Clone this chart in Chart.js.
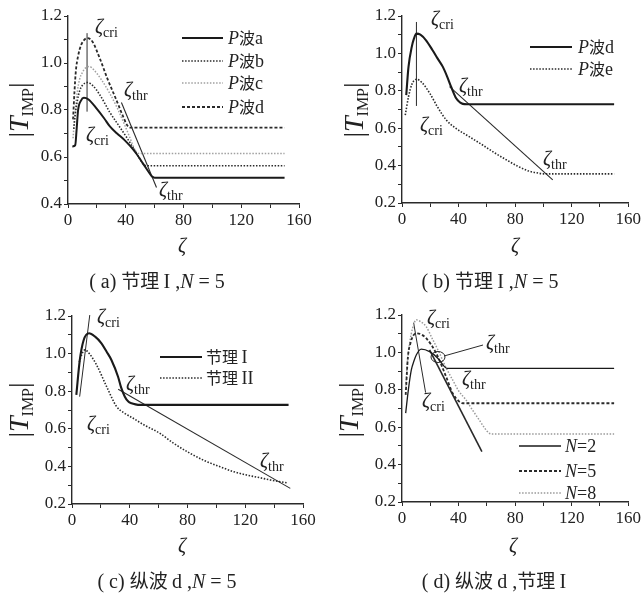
<!DOCTYPE html>
<html>
<head>
<meta charset="utf-8">
<script src="https://cdn.jsdelivr.net/npm/chart.js@4.4.1/dist/chart.umd.min.js"></script>
<style>
  body { margin: 0; background: #fff; }
  #wrap { position: relative; width: 643px; height: 593px; overflow: hidden; }
  canvas { position: absolute; }
</style>
</head>
<body>
<div id="wrap">
  <canvas id="pa" width="320" height="300" style="left:0;top:0"></canvas>
  <canvas id="pb" width="323" height="300" style="left:320px;top:0"></canvas>
  <canvas id="pc" width="320" height="293" style="left:0;top:300px"></canvas>
  <canvas id="pd" width="323" height="293" style="left:320px;top:300px"></canvas>
</div>
<script>
// ---- data: zeta (x) and |T_IMP| (y) ----
// (a) joint I, N=5
var zA_a = [3, 5, 6, 7, 9, 11, 14, 20, 25, 29, 34, 39, 43, 47, 52, 56, 58, 60, 63, 150];
var tA_a = [0.645, 0.65, 0.72, 0.80, 0.84, 0.852, 0.846, 0.805, 0.765, 0.73, 0.70, 0.673, 0.647, 0.617, 0.572, 0.535, 0.518, 0.512, 0.512, 0.512];
var zA_b = [4, 5, 6.5, 8, 10, 13.5, 17, 22, 29, 35, 41, 46, 50, 53, 56, 150];
var tA_b = [0.72, 0.78, 0.84, 0.88, 0.905, 0.917, 0.905, 0.865, 0.79, 0.735, 0.68, 0.63, 0.59, 0.565, 0.563, 0.563];
var zA_c = [3.5, 5, 6.5, 8, 10, 12, 14.8, 18, 23, 29, 34, 39, 43, 46, 48, 50, 150];
var tA_c = [0.68, 0.80, 0.88, 0.93, 0.96, 0.978, 0.985, 0.97, 0.93, 0.87, 0.81, 0.74, 0.68, 0.635, 0.617, 0.615, 0.615];
var zA_d = [3.5, 4.5, 5.5, 7, 9, 11.5, 13.7, 17, 22, 27.5, 33, 38, 41, 43, 150];
var tA_d = [0.76, 0.88, 0.97, 1.03, 1.075, 1.1, 1.106, 1.09, 1.02, 0.93, 0.85, 0.775, 0.735, 0.725, 0.725];
var zA_cri = [13.2, 13.2], tA_cri = [0.793, 1.127];
var zA_thr = [37, 61.3], tA_thr = [0.832, 0.47];

// (b) joint I, N=5
var zB_d = [3, 4.6, 6.9, 8.5, 10.2, 13, 17, 21.6, 25, 28.9, 32, 34.7, 38.3, 41, 43, 46, 150];
var tB_d = [0.777, 0.928, 1.035, 1.08, 1.106, 1.10, 1.07, 1.017, 0.975, 0.928, 0.875, 0.822, 0.76, 0.738, 0.73, 0.728, 0.728];
var zB_e = [2.3, 4.6, 7, 10.2, 14, 19.7, 25, 31.3, 38, 47.5, 57, 66, 74, 82.3, 90, 96.2, 100, 150];
var tB_e = [0.67, 0.768, 0.835, 0.862, 0.845, 0.786, 0.715, 0.644, 0.60, 0.555, 0.51, 0.466, 0.43, 0.395, 0.37, 0.36, 0.356, 0.356];
var zB_cri = [10.2, 10.2], tB_cri = [0.719, 1.168];
var zB_thr = [33.6, 106.6], tB_thr = [0.822, 0.324];

// (c) P wave d, N=5
var zC_1 = [3, 5.4, 8, 11.8, 16, 20.4, 24, 27.3, 31.9, 34, 36.6, 39, 41.2, 44, 47, 150];
var tC_1 = [0.78, 0.966, 1.07, 1.108, 1.09, 1.055, 1.01, 0.966, 0.877, 0.82, 0.771, 0.745, 0.736, 0.73, 0.727, 0.727];
var zC_2 = [5, 7, 8.9, 12, 17, 24, 30.9, 36, 42.4, 50, 60.9, 70, 81.7, 92, 102.6, 112, 121, 130, 137.3, 149];
var tC_2 = [0.955, 1.0, 1.02, 1.0, 0.94, 0.824, 0.718, 0.685, 0.656, 0.62, 0.576, 0.525, 0.47, 0.43, 0.398, 0.372, 0.354, 0.34, 0.328, 0.313];
var zC_cri = [5.3, 12.3], tC_cri = [0.771, 1.205];
var zC_thr = [32, 151.2], tC_thr = [0.81, 0.283];

// (d) P wave d, joint I
var zD_2 = [2.6, 4.5, 6.6, 8.5, 10.1, 13.6, 19.5, 25.3, 30, 32, 150];
var tD_2 = [0.675, 0.80, 0.906, 0.955, 0.986, 1.017, 1.004, 0.969, 0.924, 0.915, 0.915];
var zD_5 = [2.6, 4.2, 6, 8, 10.1, 13, 17.1, 24.2, 31.2, 35.8, 40.5, 43, 150];
var tD_5 = [0.773, 0.977, 1.05, 1.09, 1.102, 1.098, 1.076, 0.995, 0.87, 0.782, 0.737, 0.728, 0.728];
var zD_8 = [2.6, 4, 5.4, 7.5, 10.1, 13, 17.1, 21, 26.5, 31, 35.8, 40, 45.2, 50, 54.6, 58, 61.6, 64, 150];
var tD_8 = [0.80, 0.96, 1.049, 1.13, 1.174, 1.165, 1.138, 1.08, 0.996, 0.92, 0.853, 0.795, 0.746, 0.69, 0.639, 0.6, 0.568, 0.563, 0.563];
var zD_cri = [8.2, 16.7], tD_cri = [1.159, 0.785];
var zD_thr = [19.5, 56.5], tD_thr = [1.013, 0.47];

var SER = "'Liberation Serif', 'Times New Roman', serif";
var CJK = "'Noto Sans CJK SC', sans-serif";
var INK = '#2a2a2a';

function fnt(size, style, fam) { return (style ? style + ' ' : '') + size + 'px ' + fam; }

function drawRuns(ctx, x, y, parts, align) {
  var w = 0;
  parts.forEach(function (p) { ctx.font = p[1]; w += ctx.measureText(p[0]).width; });
  if (align == 'center') x -= w / 2;
  parts.forEach(function (p) {
    ctx.font = p[1];
    ctx.fillText(p[0], x, y + (p[2] || 0));
    x += ctx.measureText(p[0]).width;
  });
}

function zeta(ctx, x, y, sub) {
  drawRuns(ctx, x, y, [['ζ', fnt(20, 'italic', SER)], [sub, fnt(14, '', SER), 4]]);
}

var decor = {
  id: 'decor',
  afterDraw: function (chart, args, o) {
    var ctx = chart.ctx;
    ctx.save();
    ctx.fillStyle = '#222';
    ctx.textBaseline = 'alphabetic';

    // y title |T_IMP|
    ctx.save();
    ctx.translate(o.ytitle[0], o.ytitle[1]);
    ctx.rotate(-Math.PI / 2);
    drawRuns(ctx, 0, 10, [['|', fnt(28, '', SER)], ['T', fnt(28, 'italic', SER)],
      ['IMP', fnt(16, '', SER), 5], ['|', fnt(28, '', SER)]], 'center');
    ctx.restore();

    // x title
    drawRuns(ctx, o.xtitle[0], o.xtitle[1], [['ζ', fnt(20, 'italic', SER)]], 'center');

    // caption
    drawRuns(ctx, o.cap[0], 288, o.caption, 'center');

    // zeta labels
    o.labels.forEach(function (l) { zeta(ctx, l[0], l[1], l[2]); });

    // legend
    var lg = o.legend;
    lg.items.forEach(function (it, i) {
      var ds = chart.data.datasets[it.ds];
      var yy = lg.rows[i];
      ctx.save();
      ctx.strokeStyle = ds.borderColor;
      ctx.lineWidth = ds.borderWidth;
      ctx.setLineDash(ds.borderDash || []);
      ctx.beginPath();
      ctx.moveTo(lg.x1, yy);
      ctx.lineTo(lg.x2, yy);
      ctx.stroke();
      ctx.restore();
      drawRuns(ctx, lg.tx, yy + 6, it.parts);
    });

    // extra marks (circle + leader in d)
    if (o.ellipse) {
      var e = o.ellipse;
      ctx.strokeStyle = INK;
      ctx.lineWidth = 1;
      ctx.beginPath();
      ctx.ellipse(e[0], e[1], e[2], e[3], 0, 0, Math.PI * 2);
      ctx.stroke();
      ctx.beginPath();
      ctx.moveTo(e[4], e[5]);
      ctx.lineTo(e[6], e[7]);
      ctx.stroke();
    }
    ctx.restore();
  }
};

function series(xs, ys, color, width, dash, straight) {
  return {
    data: xs.map(function (v, i) { return { x: v, y: ys[i] }; }),
    borderColor: color,
    borderWidth: width,
    borderDash: dash || [],
    pointRadius: 0,
    fill: false,
    clip: false,
    tension: straight ? 0 : 0.4,
    cubicInterpolationMode: straight ? 'default' : 'monotone'
  };
}

function makePanel(id, area, ymin, datasets, deco) {
  var cv = document.getElementById(id);
  var W = cv.width, H = cv.height, XH = 28;
  var tickFont = { family: SER, size: 17 };
  var grid = { drawOnChartArea: false, drawTicks: true, tickLength: 4, color: INK };
  var border = { color: INK, width: 1.4 };
  new Chart(cv, {
    type: 'line',
    data: { datasets: datasets },
    options: {
      responsive: false,
      animation: false,
      devicePixelRatio: 1,
      layout: { padding: { left: 0, top: area.t, right: W - area.r, bottom: H - area.b - XH } },
      plugins: { legend: { display: false }, tooltip: { enabled: false }, decor: deco },
      scales: {
        x: {
          type: 'linear', min: 0, max: 160,
          afterFit: function (s) { s.height = XH; },
          ticks: { stepSize: 20, autoSkip: false, maxRotation: 0, padding: 2, color: '#222', font: tickFont,
            callback: function (v) { return v % 40 === 0 ? v : ''; } },
          grid: grid, border: border
        },
        y: {
          type: 'linear', min: ymin, max: 1.2,
          afterFit: function (s) { s.width = area.l; },
          ticks: { stepSize: 0.1, autoSkip: false, padding: 2, color: '#222', font: tickFont,
            callback: function (v) { return Math.round(v * 10) % 2 === 0 ? v.toFixed(1) : ''; } },
          grid: grid, border: border
        }
      }
    },
    plugins: [decor]
  });
}

var DOT = [1.5, 1.6];
var DASH = [3, 2];

function pw(letter) { return [['P', fnt(18, 'italic', SER)], ['波', fnt(16, '', CJK)], [letter, fnt(18, '', SER)]]; }
function nn(v) { return [['N', fnt(18, 'italic', SER)], ['=' + v, fnt(18, '', SER)]]; }
var C17 = fnt(20, '', SER), C17i = fnt(20, 'italic', SER), K17 = fnt(19, '', CJK);

makePanel('pa', { l: 68, t: 16, r: 299, b: 204 }, 0.4, [
  series(zA_a, tA_a, '#1a1a1a', 2),
  series(zA_b, tA_b, INK, 1.6, DOT),
  series(zA_c, tA_c, '#a0a0a0', 1.5, DOT),
  series(zA_d, tA_d, INK, 1.8, DASH),
  series(zA_cri, tA_cri, INK, 1, null, true),
  series(zA_thr, tA_thr, INK, 1.1, null, true)
], {
  ytitle: [18, 110], xtitle: [182, 252], cap: [157],
  caption: [['( a) ', C17], ['节理 ', K17], ['I', C17], [' ,', C17], ['N', C17i], [' = 5', C17]],
  labels: [[95, 33, 'cri'], [86, 141, 'cri'], [124, 96, 'thr'], [159, 196, 'thr']],
  legend: { x1: 182, x2: 223, tx: 228, rows: [38, 61, 83, 107],
    items: [{ ds: 0, parts: pw('a') }, { ds: 1, parts: pw('b') }, { ds: 2, parts: pw('c') }, { ds: 3, parts: pw('d') }] }
});

makePanel('pb', { l: 82, t: 16, r: 312, b: 203 }, 0.2, [
  series(zB_d, tB_d, '#1a1a1a', 2.1),
  series(zB_e, tB_e, INK, 1.6, DOT),
  series(zB_cri, tB_cri, INK, 1, null, true),
  series(zB_thr, tB_thr, INK, 1.1, null, true)
], {
  ytitle: [33, 110], xtitle: [195, 252], cap: [170],
  caption: [['( b) ', C17], ['节理 ', K17], ['I', C17], [' ,', C17], ['N', C17i], [' = 5', C17]],
  labels: [[111, 25, 'cri'], [100, 131, 'cri'], [139, 92, 'thr'], [223, 165, 'thr']],
  legend: { x1: 210, x2: 252, tx: 258, rows: [47, 69],
    items: [{ ds: 0, parts: pw('d') }, { ds: 1, parts: pw('e') }] }
});

makePanel('pc', { l: 72, t: 16, r: 303, b: 204 }, 0.2, [
  series(zC_1, tC_1, '#1a1a1a', 2.1),
  series(zC_2, tC_2, INK, 1.6, DOT),
  series(zC_cri, tC_cri, INK, 1, null, true),
  series(zC_thr, tC_thr, INK, 1.1, null, true)
], {
  ytitle: [18, 110], xtitle: [182, 252], cap: [167],
  caption: [['( c) ', C17], ['纵波 ', K17], ['d ,', C17], ['N', C17i], [' = 5', C17]],
  labels: [[97, 23, 'cri'], [87, 130, 'cri'], [126, 90, 'thr'], [260, 167, 'thr']],
  legend: { x1: 160, x2: 202, tx: 206, rows: [57, 78],
    items: [{ ds: 0, parts: [['节理 ', fnt(16, '', CJK)], ['I', fnt(18, '', SER)]] },
            { ds: 1, parts: [['节理 ', fnt(16, '', CJK)], ['II', fnt(18, '', SER)]] }] }
});

makePanel('pd', { l: 82, t: 15, r: 310, b: 202 }, 0.2, [
  series(zD_2, tD_2, '#1a1a1a', 1.3),
  series(zD_5, tD_5, INK, 1.8, DASH),
  series(zD_8, tD_8, '#999', 1.5, DOT),
  series(zD_cri, tD_cri, INK, 1, null, true),
  series(zD_thr, tD_thr, INK, 1.6, null, true)
], {
  ytitle: [28, 110], xtitle: [193, 252], cap: [174],
  caption: [['( d) ', C17], ['纵波 ', K17], ['d ,', C17], ['节理 ', K17], ['I', C17]],
  labels: [[107, 24, 'cri'], [166, 49, 'thr'], [142, 85, 'thr'], [102, 107, 'cri']],
  ellipse: [118, 57, 7, 5.5, 124, 56, 163, 45],
  legend: { x1: 199, x2: 241, tx: 245, rows: [146, 171, 193],
    items: [{ ds: 0, parts: nn(2) }, { ds: 1, parts: nn(5) }, { ds: 2, parts: nn(8) }] }
});
</script>
</body>
</html>
